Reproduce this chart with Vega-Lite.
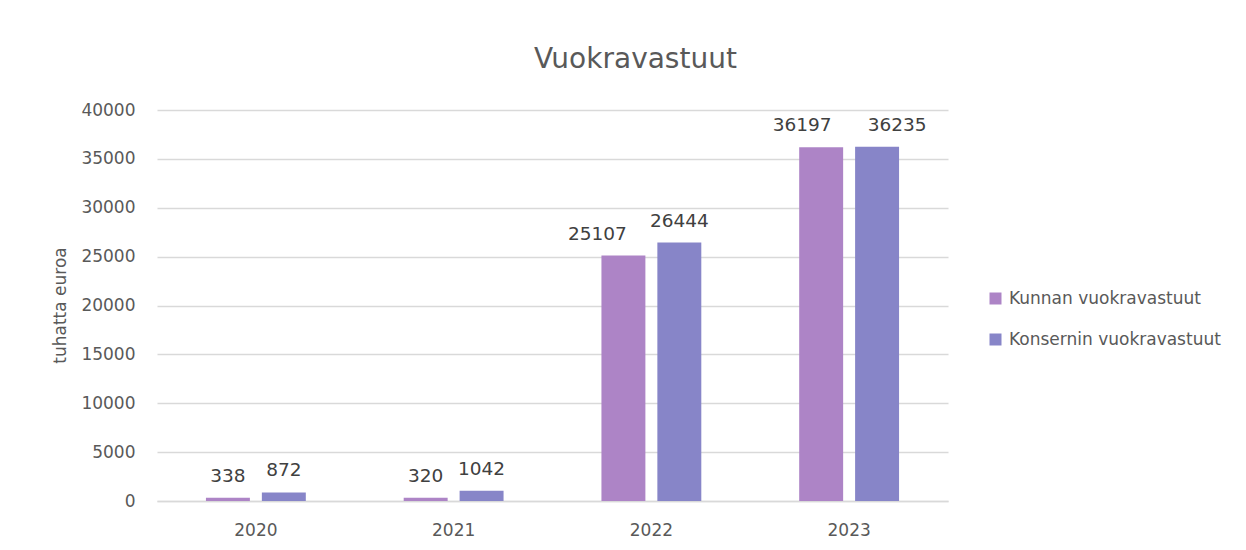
{
  "$schema": "https://vega.github.io/schema/vega-lite/v6.json",
  "autosize": "none",
  "width": 791,
  "height": 391,
  "padding": {"left": 157, "top": 110, "right": 298, "bottom": 49},
  "background": "white",
  "config": {
    "font": "DejaVu Sans",
    "view": {"stroke": null}
  },
  "title": {
    "text": "Vuokravastuut",
    "fontSize": 28,
    "fontWeight": "normal",
    "color": "#595959",
    "anchor": "middle",
    "dx": 83,
    "offset": 27
  },
  "data": {
    "values": [
      {"vuosi": "2020", "sarja": "Kunnan vuokravastuut", "arvo": 338},
      {"vuosi": "2020", "sarja": "Konsernin vuokravastuut", "arvo": 872},
      {"vuosi": "2021", "sarja": "Kunnan vuokravastuut", "arvo": 320},
      {"vuosi": "2021", "sarja": "Konsernin vuokravastuut", "arvo": 1042},
      {"vuosi": "2022", "sarja": "Kunnan vuokravastuut", "arvo": 25107},
      {"vuosi": "2022", "sarja": "Konsernin vuokravastuut", "arvo": 26444},
      {"vuosi": "2023", "sarja": "Kunnan vuokravastuut", "arvo": 36197},
      {"vuosi": "2023", "sarja": "Konsernin vuokravastuut", "arvo": 36235}
    ]
  },
  "encoding": {
    "x": {
      "field": "vuosi",
      "type": "nominal",
      "scale": {"paddingInner": 0.495, "paddingOuter": 0.2475},
      "axis": {
        "title": null,
        "labelAngle": 0,
        "labelFontSize": 17,
        "labelColor": "#595959",
        "labelPadding": 21,
        "ticks": false,
        "domainColor": "#D9D9D9",
        "domainWidth": 1.5
      }
    },
    "xOffset": {
      "field": "sarja",
      "type": "nominal",
      "sort": ["Kunnan vuokravastuut", "Konsernin vuokravastuut"],
      "scale": {"paddingInner": 0.214, "paddingOuter": 0}
    },
    "y": {
      "field": "arvo",
      "type": "quantitative",
      "scale": {"domain": [0, 40000]},
      "axis": {
        "title": "tuhatta euroa",
        "titleFontSize": 17,
        "titleFontWeight": "normal",
        "titleColor": "#595959",
        "titleX": -97,
        "titleY": 195,
        "titleAngle": -90,
        "titleBaseline": "middle",
        "titleAlign": "center",
        "values": [0, 5000, 10000, 15000, 20000, 25000, 30000, 35000, 40000],
        "format": "d",
        "labelFontSize": 17,
        "labelColor": "#595959",
        "labelPadding": 22,
        "ticks": false,
        "domain": false,
        "gridColor": "#D9D9D9",
        "gridWidth": 1.5
      }
    }
  },
  "layer": [
    {
      "mark": {"type": "bar"},
      "encoding": {
        "color": {
          "field": "sarja",
          "type": "nominal",
          "sort": ["Kunnan vuokravastuut", "Konsernin vuokravastuut"],
          "scale": {"domain": ["Kunnan vuokravastuut", "Konsernin vuokravastuut"], "range": ["#AD84C6", "#8785C8"]},
          "legend": {
            "title": null,
            "orient": "none",
            "legendX": 830,
            "legendY": 180,
            "symbolType": "square",
            "symbolSize": 144,
            "symbolStrokeWidth": 0,
            "labelFontSize": 17,
            "labelLimit": 400,
            "labelColor": "#595959",
            "rowPadding": 23,
            "labelOffset": 5
          }
        }
      }
    },
    {
      "transform": [{"filter": "datum.vuosi == '2020' || datum.vuosi == '2021' || (datum.vuosi == '2022' && datum.sarja == 'Konsernin vuokravastuut')"}],
      "mark": {"type": "text", "fontSize": 18.5, "color": "#404040", "baseline": "alphabetic", "dy": -16},
      "encoding": {
        "text": {"field": "arvo", "type": "quantitative", "format": "d"}
      }
    },
    {
      "transform": [{"filter": "datum.vuosi == '2022' && datum.sarja == 'Kunnan vuokravastuut'"}],
      "mark": {"type": "text", "fontSize": 18.5, "color": "#404040", "baseline": "alphabetic", "dy": -16, "dx": -26},
      "encoding": {
        "text": {"field": "arvo", "type": "quantitative", "format": "d"}
      }
    },
    {
      "transform": [{"filter": "datum.vuosi == '2023' && datum.sarja == 'Kunnan vuokravastuut'"}],
      "mark": {"type": "text", "fontSize": 18.5, "color": "#404040", "baseline": "alphabetic", "dy": -16, "dx": -19},
      "encoding": {
        "text": {"field": "arvo", "type": "quantitative", "format": "d"}
      }
    },
    {
      "transform": [{"filter": "datum.vuosi == '2023' && datum.sarja == 'Konsernin vuokravastuut'"}],
      "mark": {"type": "text", "fontSize": 18.5, "color": "#404040", "baseline": "alphabetic", "dy": -16, "dx": 20},
      "encoding": {
        "text": {"field": "arvo", "type": "quantitative", "format": "d"}
      }
    }
  ]
}
